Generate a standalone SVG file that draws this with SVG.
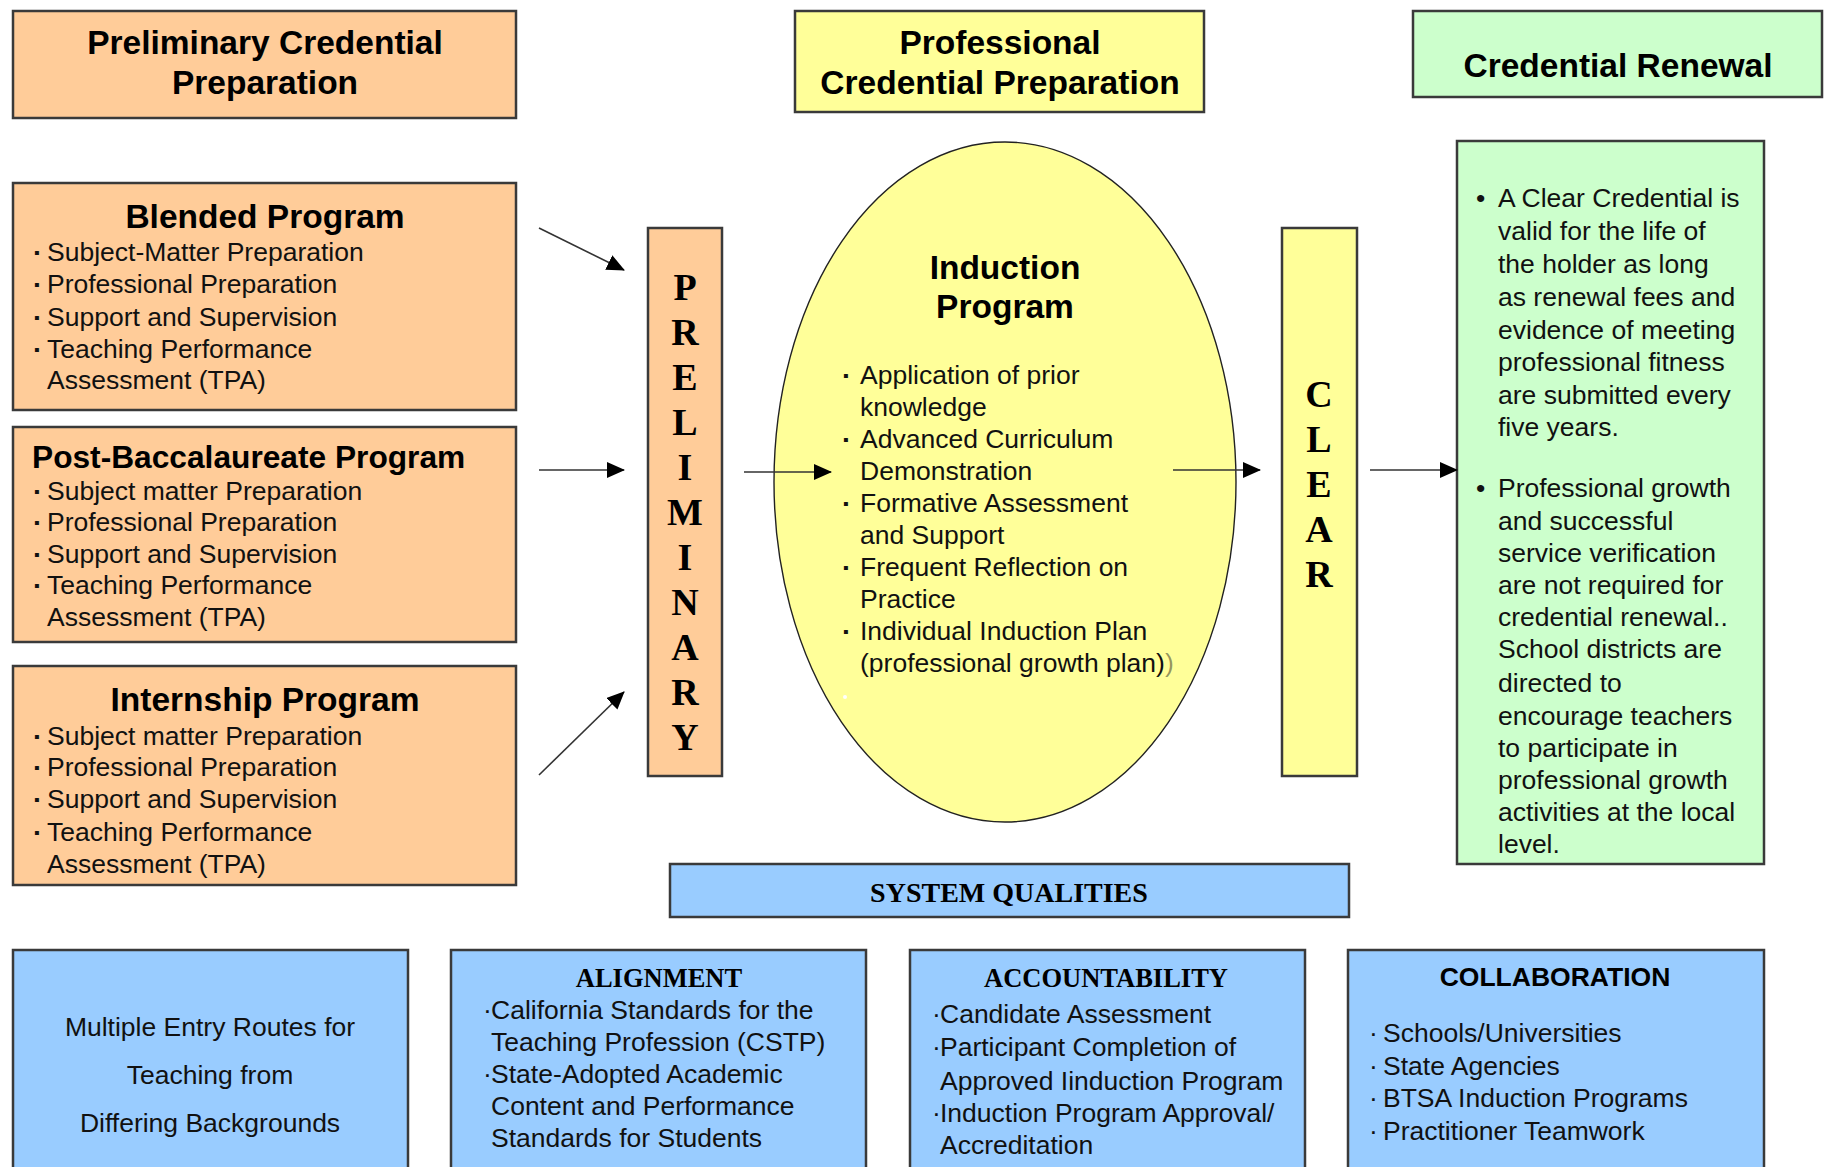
<svg xmlns="http://www.w3.org/2000/svg" width="1828" height="1167" viewBox="0 0 1828 1167">
  <defs>
    <marker id="head" markerUnits="userSpaceOnUse" markerWidth="18" markerHeight="16" viewBox="0 0 18 16" refX="17" refY="8" orient="auto">
      <path d="M0,0 L18,8 L0,16 Z" fill="#000"/>
    </marker>
    <style>
      .box { stroke: #3a3a3a; stroke-width: 2.5; }
      .orange { fill: #FFCC99; }
      .yellow { fill: #FFFF99; }
      .green { fill: #CCFFCC; }
      .blue { fill: #99CCFF; }
      .hd { font-family: "Liberation Sans", Arial, sans-serif; font-weight: bold; font-size: 33.5px; fill: #000; text-anchor: middle; }
      .tx { font-family: "Liberation Sans", Arial, sans-serif; font-size: 26.5px; fill: #111; }
      .bl { font-family: "Liberation Sans", Arial, sans-serif; font-size: 16px; fill: #111; }
      .sf { font-family: "Liberation Serif", "Times New Roman", serif; font-weight: bold; fill: #000; text-anchor: middle; }
      .ltr { font-size: 38px; }
      .cap { font-size: 26.5px; }
      .ctr { text-anchor: middle; }
      .conn { stroke: #333; stroke-width: 1.6; fill: none; marker-end: url(#head); }
    </style>
  </defs>

  <rect width="1828" height="1167" fill="#fff"/>

  <!-- column headings -->
  <g id="prelim-heading">
    <rect class="box orange" x="13" y="11" width="503" height="107"/>
    <text class="hd" x="265" y="54">Preliminary Credential</text>
    <text class="hd" x="265" y="94">Preparation</text>
  </g>
  <g id="professional-heading">
    <rect class="box yellow" x="795" y="11" width="409" height="101"/>
    <text class="hd" x="1000" y="54">Professional</text>
    <text class="hd" x="1000" y="94">Credential Preparation</text>
  </g>
  <g id="renewal-heading">
    <rect class="box green" x="1413" y="11" width="409" height="86"/>
    <text class="hd" x="1618" y="77">Credential Renewal</text>
  </g>

  <!-- entry programs -->
  <g id="blended">
    <rect class="box orange" x="13" y="183" width="503" height="227"/>
    <text class="hd" x="265" y="228">Blended Program</text>
    <text class="bl" x="34" y="258">▪</text>
    <text class="tx" x="47" y="261">Subject-Matter Preparation</text>
    <text class="bl" x="34" y="290">▪</text>
    <text class="tx" x="47" y="293">Professional Preparation</text>
    <text class="bl" x="34" y="323">▪</text>
    <text class="tx" x="47" y="326">Support and Supervision</text>
    <text class="bl" x="34" y="355">▪</text>
    <text class="tx" x="47" y="358">Teaching Performance</text>
    <text class="tx" x="47" y="389">Assessment (TPA)</text>
  </g>
  <g id="post-bacc">
    <rect class="box orange" x="13" y="427" width="503" height="215"/>
    <text class="hd" x="32" y="468" style="text-anchor:start;font-size:31.7px">Post-Baccalaureate Program</text>
    <text class="bl" x="34" y="497">▪</text>
    <text class="tx" x="47" y="500">Subject matter Preparation</text>
    <text class="bl" x="34" y="528">▪</text>
    <text class="tx" x="47" y="531">Professional Preparation</text>
    <text class="bl" x="34" y="560">▪</text>
    <text class="tx" x="47" y="563">Support and Supervision</text>
    <text class="bl" x="34" y="591">▪</text>
    <text class="tx" x="47" y="594">Teaching Performance</text>
    <text class="tx" x="47" y="626">Assessment (TPA)</text>
  </g>
  <g id="internship">
    <rect class="box orange" x="13" y="666" width="503" height="219"/>
    <text class="hd" x="265" y="711">Internship Program</text>
    <text class="bl" x="34" y="742">▪</text>
    <text class="tx" x="47" y="745">Subject matter Preparation</text>
    <text class="bl" x="34" y="773">▪</text>
    <text class="tx" x="47" y="776">Professional Preparation</text>
    <text class="bl" x="34" y="805">▪</text>
    <text class="tx" x="47" y="808">Support and Supervision</text>
    <text class="bl" x="34" y="838">▪</text>
    <text class="tx" x="47" y="841">Teaching Performance</text>
    <text class="tx" x="47" y="873">Assessment (TPA)</text>
  </g>

  <!-- PRELIMINARY bar -->
  <g id="preliminary">
    <rect class="box orange" x="648" y="228" width="74" height="548"/>
    <text class="sf ltr" x="685" y="300">P</text>
    <text class="sf ltr" x="685" y="345">R</text>
    <text class="sf ltr" x="685" y="390">E</text>
    <text class="sf ltr" x="685" y="435">L</text>
    <text class="sf ltr" x="685" y="480">I</text>
    <text class="sf ltr" x="685" y="525">M</text>
    <text class="sf ltr" x="685" y="570">I</text>
    <text class="sf ltr" x="685" y="615">N</text>
    <text class="sf ltr" x="685" y="660">A</text>
    <text class="sf ltr" x="685" y="705">R</text>
    <text class="sf ltr" x="685" y="750">Y</text>
  </g>

  <!-- induction ellipse -->
  <g id="induction">
    <ellipse class="yellow" cx="1005" cy="482" rx="231" ry="340" stroke="#222" stroke-width="1.4"/>
    <text class="hd" x="1005" y="279">Induction</text>
    <text class="hd" x="1005" y="318">Program</text>
    <text class="bl" x="843" y="381">▪</text>
    <text class="tx" x="860" y="384">Application of prior</text>
    <text class="tx" x="860" y="416">knowledge</text>
    <text class="bl" x="843" y="445">▪</text>
    <text class="tx" x="860" y="448">Advanced Curriculum</text>
    <text class="tx" x="860" y="480">Demonstration</text>
    <text class="bl" x="843" y="509">▪</text>
    <text class="tx" x="860" y="512">Formative Assessment</text>
    <text class="tx" x="860" y="544">and Support</text>
    <text class="bl" x="843" y="573">▪</text>
    <text class="tx" x="860" y="576">Frequent Reflection on</text>
    <text class="tx" x="860" y="608">Practice</text>
    <text class="bl" x="843" y="637">▪</text>
    <text class="tx" x="860" y="640">Individual Induction Plan</text>
    <text class="tx" x="860" y="672">(professional growth plan)<tspan fill-opacity="0.45">)</tspan></text>
    <circle cx="845" cy="697" r="2" fill="#fff"/>
  </g>

  <!-- CLEAR bar -->
  <g id="clear">
    <rect class="box yellow" x="1282" y="228" width="75" height="548"/>
    <text class="sf ltr" x="1319" y="407">C</text>
    <text class="sf ltr" x="1319" y="452">L</text>
    <text class="sf ltr" x="1319" y="497">E</text>
    <text class="sf ltr" x="1319" y="542">A</text>
    <text class="sf ltr" x="1319" y="587">R</text>
  </g>

  <!-- renewal details -->
  <g id="renewal-details">
    <rect class="box green" x="1457" y="141" width="307" height="723"/>
    <text class="tx" x="1476" y="207">•</text>
    <text class="tx" x="1498" y="207">A Clear Credential is</text>
    <text class="tx" x="1498" y="240">valid for the life of</text>
    <text class="tx" x="1498" y="273">the holder as long</text>
    <text class="tx" x="1498" y="306">as renewal fees and</text>
    <text class="tx" x="1498" y="339">evidence of meeting</text>
    <text class="tx" x="1498" y="371">professional fitness</text>
    <text class="tx" x="1498" y="404">are submitted every</text>
    <text class="tx" x="1498" y="436">five years.</text>
    <text class="tx" x="1476" y="497">•</text>
    <text class="tx" x="1498" y="497">Professional growth</text>
    <text class="tx" x="1498" y="530">and successful</text>
    <text class="tx" x="1498" y="562">service verification</text>
    <text class="tx" x="1498" y="594">are not required for</text>
    <text class="tx" x="1498" y="626">credential renewal..</text>
    <text class="tx" x="1498" y="658">School districts are</text>
    <text class="tx" x="1498" y="692">directed to</text>
    <text class="tx" x="1498" y="725">encourage teachers</text>
    <text class="tx" x="1498" y="757">to participate in</text>
    <text class="tx" x="1498" y="789">professional growth</text>
    <text class="tx" x="1498" y="821">activities at the local</text>
    <text class="tx" x="1498" y="853">level.</text>
  </g>

  <!-- system qualities -->
  <g id="system-qualities">
    <rect class="box blue" x="670" y="864" width="679" height="53"/>
    <text class="sf" x="1009" y="902" style="font-size:28px">SYSTEM QUALITIES</text>
  </g>
  <g id="entry-routes">
    <rect class="box blue" x="13" y="950" width="395" height="240"/>
    <text class="tx ctr" x="210" y="1036">Multiple Entry Routes for</text>
    <text class="tx ctr" x="210" y="1084">Teaching from</text>
    <text class="tx ctr" x="210" y="1132">Differing Backgrounds</text>
  </g>
  <g id="alignment">
    <rect class="box blue" x="451" y="950" width="415" height="240"/>
    <text class="sf cap" x="659" y="987">ALIGNMENT</text>
    <text class="tx" x="483" y="1019">·</text>
    <text class="tx" x="491" y="1019">California Standards for the</text>
    <text class="tx" x="491" y="1051">Teaching Profession (CSTP)</text>
    <text class="tx" x="483" y="1083">·</text>
    <text class="tx" x="491" y="1083">State-Adopted Academic</text>
    <text class="tx" x="491" y="1115">Content and Performance</text>
    <text class="tx" x="491" y="1147">Standards for Students</text>
  </g>
  <g id="accountability">
    <rect class="box blue" x="910" y="950" width="395" height="240"/>
    <text class="sf cap" x="1106" y="987">ACCOUNTABILITY</text>
    <text class="tx" x="932" y="1023">·</text>
    <text class="tx" x="940" y="1023">Candidate Assessment</text>
    <text class="tx" x="932" y="1056">·</text>
    <text class="tx" x="940" y="1056">Participant Completion of</text>
    <text class="tx" x="940" y="1090">Approved Iinduction Program</text>
    <text class="tx" x="932" y="1122">·</text>
    <text class="tx" x="940" y="1122">Induction Program Approval/</text>
    <text class="tx" x="940" y="1154">Accreditation</text>
  </g>
  <g id="collaboration">
    <rect class="box blue" x="1348" y="950" width="416" height="240"/>
    <text class="hd" x="1555" y="986" style="font-size:26.5px">COLLABORATION</text>
    <text class="tx" x="1369" y="1042">·</text>
    <text class="tx" x="1383" y="1042">Schools/Universities</text>
    <text class="tx" x="1369" y="1075">·</text>
    <text class="tx" x="1383" y="1075">State Agencies</text>
    <text class="tx" x="1369" y="1107">·</text>
    <text class="tx" x="1383" y="1107">BTSA Induction Programs</text>
    <text class="tx" x="1369" y="1140">·</text>
    <text class="tx" x="1383" y="1140">Practitioner Teamwork</text>
  </g>

  <!-- connectors -->
  <g id="connectors">
    <line class="conn" x1="539" y1="228" x2="624" y2="270"/>
    <line class="conn" x1="539" y1="470" x2="624" y2="470"/>
    <line class="conn" x1="539" y1="775" x2="624" y2="692"/>
    <line class="conn" x1="744" y1="472" x2="831" y2="472"/>
    <line class="conn" x1="1173" y1="470" x2="1260" y2="470"/>
    <line class="conn" x1="1370" y1="470" x2="1457" y2="470"/>
  </g>
</svg>
